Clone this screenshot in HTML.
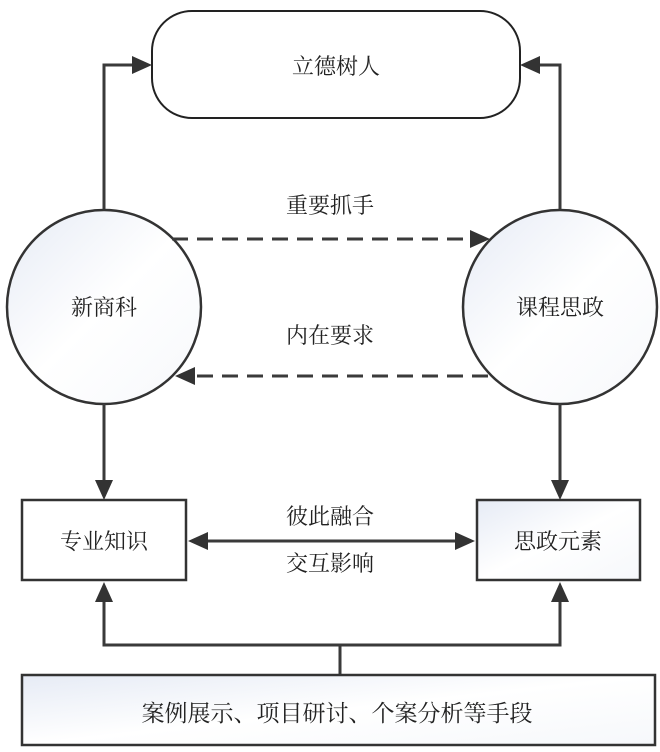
<!DOCTYPE html>
<html><head><meta charset="utf-8"><style>
html,body{margin:0;padding:0;background:#fff;}
text{font-family:"Liberation Serif","Noto Serif CJK SC",serif;fill:#222;}
</style></head><body>
<svg width="660" height="747" viewBox="0 0 660 747" xmlns="http://www.w3.org/2000/svg">
<defs>
<linearGradient id="g" x1="0" y1="0" x2="1" y2="1">
<stop offset="0" stop-color="#e6ebf5"/><stop offset="0.5" stop-color="#ffffff"/><stop offset="1" stop-color="#f6f8fb"/>
</linearGradient>
</defs>
<style>.ln{stroke:#3a3a3a;stroke-width:3;fill:none}</style>
<rect x="152" y="11" width="368" height="107" rx="40" fill="#fff" stroke="#222" stroke-width="2"/>
<text x="336" y="74" font-size="22" text-anchor="middle">立德树人</text>
<path d="M104,210 V65 H132" class="ln"/>
<path d="M132,56 L152,65 L132,74 z" fill="#333"/>
<path d="M560,210 V65 H540" class="ln"/>
<path d="M540,56 L520,65 L540,74 z" fill="#333"/>
<circle cx="104" cy="307" r="97" fill="url(#g)" stroke="#333" stroke-width="2.5"/>
<circle cx="560" cy="307" r="97" fill="url(#g)" stroke="#333" stroke-width="2.5"/>
<text x="104" y="315" font-size="22" text-anchor="middle">新商科</text>
<text x="560" y="315" font-size="22" text-anchor="middle">课程思政</text>
<text x="330" y="213" font-size="22" text-anchor="middle">重要抓手</text>
<text x="330" y="343" font-size="22" text-anchor="middle">内在要求</text>
<path d="M172,239 H470" class="ln" stroke-dasharray="16,9"/>
<path d="M470,230 L490,239 L470,248 z" fill="#333"/>
<path d="M488,376 H195" class="ln" stroke-dasharray="16,9"/>
<path d="M195,367 L175,376 L195,385 z" fill="#333"/>
<path d="M104,404 V480" class="ln"/>
<path d="M95,480 L104,500 L113,480 z" fill="#333"/>
<path d="M560,404 V480" class="ln"/>
<path d="M551,480 L560,500 L569,480 z" fill="#333"/>
<rect x="22" y="500" width="164" height="80" fill="#fff" stroke="#333" stroke-width="2.5"/>
<rect x="477" y="500" width="163" height="80" fill="url(#g)" stroke="#333" stroke-width="2.5"/>
<text x="104" y="549" font-size="22" text-anchor="middle">专业知识</text>
<text x="558" y="549" font-size="22" text-anchor="middle">思政元素</text>
<path d="M208,541 H455" class="ln"/>
<path d="M208,532 L188,541 L208,550 z" fill="#333"/>
<path d="M455,532 L475,541 L455,550 z" fill="#333"/>
<text x="330" y="524" font-size="22" text-anchor="middle">彼此融合</text>
<text x="330" y="571" font-size="22" text-anchor="middle">交互影响</text>
<path d="M104,602 V645 H560 V602 M340,645 V675" class="ln"/>
<path d="M95,602 L104,582 L113,602 z" fill="#333"/>
<path d="M551,602 L560,582 L569,602 z" fill="#333"/>
<rect x="22" y="675" width="633" height="70" fill="url(#g)" stroke="#333" stroke-width="2.5"/>
<text x="337" y="721" font-size="23" text-anchor="middle">案例展示、项目研讨、个案分析等手段</text>
</svg>
</body></html>
